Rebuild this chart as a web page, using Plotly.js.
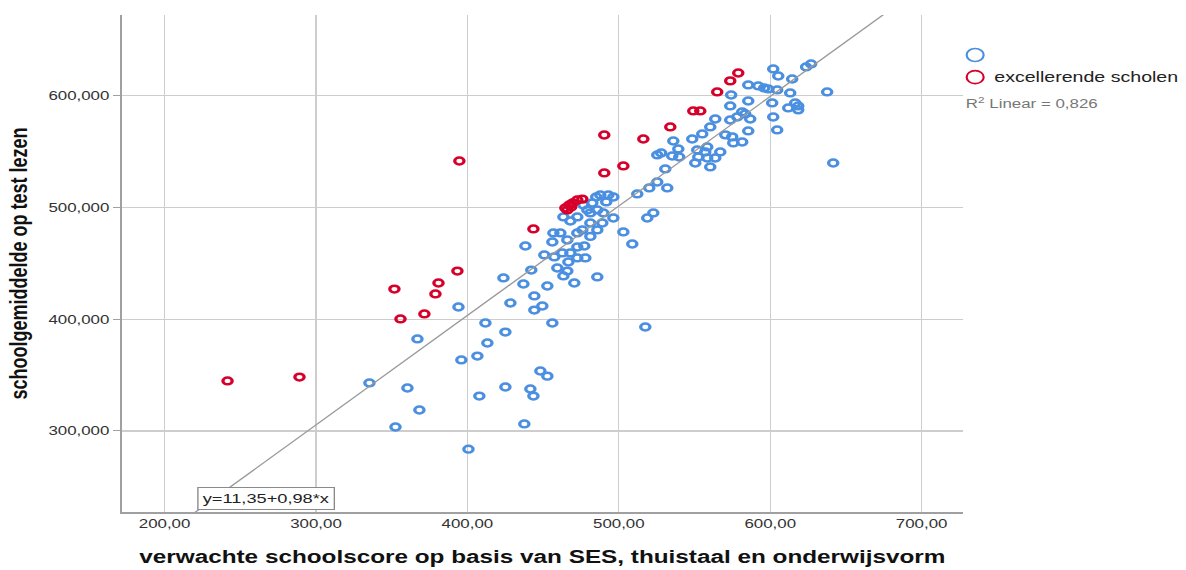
<!DOCTYPE html>
<html><head><meta charset="utf-8">
<script src="https://cdn.plot.ly/plotly-3.0.1.min.js"></script>
<style>
html,body{margin:0;padding:0;background:#fff;overflow:hidden;width:1186px;height:570px;}
#wrap{width:1186px;height:570px;overflow:hidden;}
#chart{width:878px;height:570px;transform:scaleX(1.3508);transform-origin:0 0;}
</style></head><body><div id="wrap"><div id="chart"></div></div>
<script>
// ---- data ----
const blueX = [627.0,623.7,602.0,605.3,614.5,585.5,592.1,596.0,598.7,604.6,637.6,574.2,613.2,585.5,601.3,616.5,618.5,611.9,618.5,573.6,602.0,604.6,581.5,583.5,586.8,578.2,573.6,563.7,585.5,581.5,560.4,555.1,548.5,570.3,574.9,575.6,536.0,539.3,525.4,528.0,535.3,539.9,567.0,558.4,557.1,551.8,552.5,558.4,563.7,550.5,560.4,530.7,641.6,
525.4,532.0,520.1,512.2,522.8,518.8,503.0,508.9,
487.8,493.1,496.4,485.1,476.6,479.2,485.8,489.8,481.2,472.6,463.4,468.0,481.2,489.1,496.4,475.9,485.8,472.6,461.4,456.8,481.2,466.0,456.1,472.6,477.2,468.0,462.7,472.6,466.7,477.9,450.8,457.4,438.3,459.4,466.0,463.4,442.2,470.6,485.8,423.8,437.0,452.8,491.7,482.5,
444.2,449.5,444.2,428.4,411.9,425.1,413.2,456.1,517.5,406.6,396.0,448.2,452.8,335.3,360.4,425.1,441.6,443.6,407.9,368.3,352.5,437.6,400.7,394.1,367.0];
const blueY = [628.5,625.8,624.0,617.7,615.0,609.7,608.8,607.0,606.1,605.2,603.4,600.7,602.5,595.3,593.6,593.6,590.9,589.1,587.4,590.9,581.0,569.4,585.5,583.7,579.2,581.0,578.3,579.2,568.5,558.6,572.1,565.8,561.3,565.0,563.2,557.8,559.5,552.4,547.0,548.8,546.1,545.2,549.7,554.2,549.7,551.5,545.2,544.3,544.3,539.8,536.3,534.5,539.8,
522.8,517.5,517.5,512.1,495.1,490.6,478.1,467.3,
511.2,511.2,509.4,509.4,502.2,497.8,497.8,495.1,495.1,491.5,491.5,487.9,486.1,486.1,490.6,479.9,479.9,477.2,477.2,477.2,474.1,470.9,469.1,464.6,465.5,459.3,459.3,454.8,451.2,454.8,457.5,455.7,465.5,445.8,443.1,438.7,444.0,432.4,437.8,436.9,431.5,429.7,505.0,504.0,
420.8,411.8,408.2,414.5,396.6,388.5,378.7,396.6,393.0,367.0,363.5,353.6,349.0,342.9,338.4,339.3,337.5,331.2,331.2,318.7,303.5,306.2,283.6,410.9,382.3];
const redX = [241.6,289.1,351.8,355.8,371.6,378.9,380.9,393.4,394.7,443.6,464.7,467.3,469.5,472.6,475.9,466.0,468.5,490.4,503.0,490.4,516.2,534.0,549.2,553.8,565.0,573.6,578.9];
const redY = [344.7,348.2,427.0,400.2,404.7,422.6,432.4,443.1,541.6,480.8,499.6,502.2,504.0,506.7,507.5,497.8,500.5,530.9,537.2,564.9,561.3,572.1,586.4,586.4,603.4,613.3,620.4];

const fitIntercept = 11.35;
const fitSlope = 0.98;
const fitLabel = "y=11,35+0,98*x";
const r2Label = "R<sup>2</sup> Linear = 0,826";
const seriesNames = ["", "excellerende scholen"];

const xTickVals = [200,300,400,500,600,700];
const xTickText = ["200,00","300,00","400,00","500,00","600,00","700,00"];
const yTickVals = [300,400,500,600];
const yTickText = ["300,000","400,000","500,000","600,000"];
const xTitle = "verwachte schoolscore op basis van SES, thuistaal en onderwijsvorm";
const yTitle = "schoolgemiddelde op test lezen";

// ---- styles ----
const xRange = [171.6, 727.4];
const yRange = [227.4, 672.3];
const BLUE = "#4a8fe0";
const RED = "#d7002a";
const FONT = "Liberation Sans, Arial, sans-serif";

const fitX = xRange.slice();
const fitY = fitX.map(v => fitIntercept + fitSlope * v);

const traces = [
  {x: blueX, y: blueY, type: "scatter", mode: "markers", name: "schools", showlegend: false,
   marker: {symbol: "circle-open", size: 6.8, color: BLUE, line: {width: 2.5}}, hoverinfo: "x+y"},
  {x: redX, y: redY, type: "scatter", mode: "markers", name: seriesNames[1], showlegend: false,
   marker: {symbol: "circle-open", size: 6.8, color: RED, line: {width: 2.5}}, hoverinfo: "x+y"},
  {x: fitX, y: fitY, type: "scatter", mode: "lines", name: "fit", showlegend: false, hoverinfo: "skip",
   line: {color: "#9a9a9a", width: 1.2}}
];

const legendCircle = (yPos, col) => ({type: "circle", xref: "paper", yref: "paper",
  xsizemode: "pixel", ysizemode: "pixel", xanchor: 1.0143, yanchor: yPos,
  x0: -6.3, x1: 6.3, y0: -6.5, y1: 6.5, line: {color: col, width: 1.6}, fillcolor: "rgba(0,0,0,0)"});

const layout = {
  width: 878, height: 570,
  margin: {l: 90, r: 165, t: 15, b: 58},
  paper_bgcolor: "#fff", plot_bgcolor: "#fff",
  font: {family: FONT, color: "#333"},
  showlegend: false,
  xaxis: {range: xRange, tickmode: "array", tickvals: xTickVals, ticktext: xTickText,
    showgrid: true, gridcolor: "#cdcdcd", gridwidth: 1, zeroline: false,
    showline: true, linecolor: "#a0a0a0", linewidth: 1.5, ticks: "",
    tickfont: {family: FONT, size: 12.5, color: "#333"}, automargin: false,
    title: {text: xTitle, standoff: 20, font: {family: FONT, size: 18, color: "#111", weight: "bold"}}},
  yaxis: {range: yRange, tickmode: "array", tickvals: yTickVals, ticktext: yTickText,
    showgrid: true, gridcolor: "#cdcdcd", gridwidth: 1.3, zeroline: false,
    showline: true, linecolor: "#a0a0a0", linewidth: 1.5, ticks: "outside", ticklen: 5, tickcolor: "#a0a0a0",
    tickfont: {family: FONT, size: 12.5, color: "#333"}, automargin: false,
    title: {text: yTitle, standoff: 10, font: {family: FONT, size: 18, color: "#111", weight: "bold"}}},
  shapes: [legendCircle(0.9195, BLUE), legendCircle(0.875, RED)],
  annotations: [
    {text: fitLabel, xref: "paper", yref: "paper", x: 0.0903, y: 0.004, xanchor: "left", yanchor: "bottom",
     showarrow: false, font: {family: FONT, size: 13.5, color: "#222"}, bgcolor: "#fff",
     bordercolor: "#8a8a8a", borderwidth: 1, borderpad: 3},
    {text: seriesNames[1], xref: "paper", yref: "paper", x: 1.0344, y: 0.875, xanchor: "left", yanchor: "middle",
     showarrow: false, font: {family: FONT, size: 14.5, color: "#222"}},
    {text: r2Label, xref: "paper", yref: "paper", x: 1.0, y: 0.823, xanchor: "left", yanchor: "middle",
     showarrow: false, font: {family: FONT, size: 12.5, color: "#777"}}
  ]
};

Plotly.newPlot("chart", traces, layout, {displayModeBar: false, staticPlot: true});
</script>
</body></html>
